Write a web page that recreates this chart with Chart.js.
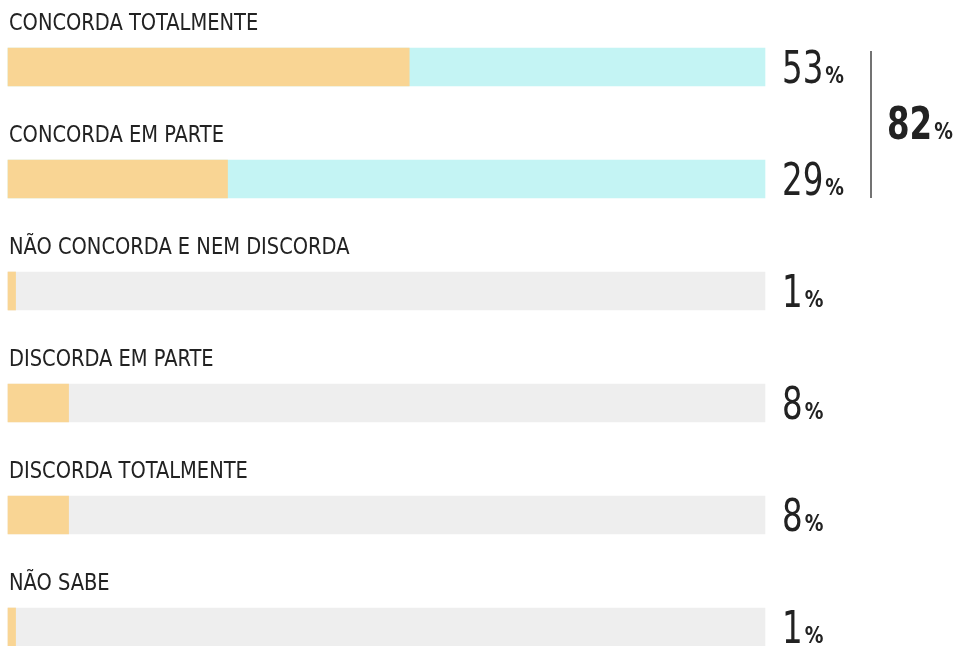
<!DOCTYPE html>
<html>
<head>
<meta charset="utf-8">
<script src="https://cdn.jsdelivr.net/npm/chart.js@4"></script>
<style>
  html, body { margin: 0; padding: 0; background: #fff; }
  #wrap { width: 973px; height: 646px; }
</style>
</head>
<body>
<div id="wrap"><canvas id="myChart" width="973" height="646"></canvas></div>
<script>
const categorias = ['CONCORDA TOTALMENTE', 'CONCORDA EM PARTE', 'NÃO CONCORDA E NEM DISCORDA',
    'DISCORDA EM PARTE', 'DISCORDA TOTALMENTE', 'NÃO SABE'];
const valores = [53, 29, 1, 8, 8, 1];
const maximo = [100, 100, 100, 100, 100, 100];
const destacados = [0, 1]; // barras somadas no total (82%)

const FONTE = "'Liberation Sans Narrow', 'DejaVu Sans Condensed', 'Roboto', sans-serif";
const laranja = '#f9d594';
const ciano = '#c4f4f4';
const cinza = '#eeeeee';

// texto um pouco mais estreito, para lembrar a fonte condensada do original
function textoEstreito(ctx, txt, x, y, escala) {
    ctx.save();
    ctx.translate(x, y);
    ctx.scale(escala, 1);
    ctx.fillText(txt, 0, 0);
    ctx.restore();
    return ctx.measureText(txt).width * escala;
}

const rotulos = {
    id: 'rotulos',
    afterDatasetsDraw(chart) {
        const ctx = chart.ctx;
        const y = chart.scales.y;
        const area = chart.chartArea;
        ctx.save();
        ctx.fillStyle = '#222';
        ctx.textBaseline = 'alphabetic';
        ctx.textAlign = 'left';
        categorias.forEach((cat, i) => {
            const cy = y.getPixelForValue(i);
            // titulo acima da barra
            ctx.font = '300 23px ' + FONTE;
            textoEstreito(ctx, cat, 9, cy - 37, 0.94);
            // valor
            ctx.font = '300 44px ' + FONTE;
            const w = textoEstreito(ctx, String(valores[i]), area.right + 17, cy + 16, 0.82);
            ctx.font = 'bold 23px ' + FONTE;
            textoEstreito(ctx, '%', area.right + 17 + w + 2, cy + 16, 0.9);
        });
        // chave com total
        const y0 = y.getPixelForValue(destacados[0]);
        const y1 = y.getPixelForValue(destacados[destacados.length - 1]);
        ctx.strokeStyle = '#444';
        ctx.lineWidth = 1.5;
        ctx.beginPath();
        ctx.moveTo(871, y0 - 16);
        ctx.lineTo(871, y1 + 19);
        ctx.stroke();
        const total = destacados.reduce((s, i) => s + valores[i], 0);
        ctx.font = 'bold 44px ' + FONTE;
        const tx = 887;
        const ty = (y0 + y1) / 2 + 16;
        const tw = textoEstreito(ctx, String(total), tx, ty, 0.82);
        ctx.font = 'bold 23px ' + FONTE;
        textoEstreito(ctx, '%', tx + tw + 2, ty, 0.9);
        ctx.restore();
    }
};

const ctx = document.getElementById('myChart').getContext('2d');
const myChart = new Chart(ctx, {
    type: 'bar',
    data: {
        labels: categorias,
        datasets: [{
            data: valores,
            backgroundColor: laranja,
            barThickness: 38,
            grouped: false,
            clip: false
        }, {
            data: maximo,
            backgroundColor: categorias.map((c, i) => destacados.includes(i) ? ciano : cinza),
            barThickness: 38,
            grouped: false,
            clip: false
        }]
    },
    options: {
        indexAxis: 'y',
        responsive: false,
        animation: false,
        layout: { padding: { left: 8, right: 208, top: 67, bottom: 19 } },
        scales: {
            x: { min: 0, max: 100, display: false },
            y: { display: false, offset: false }
        },
        plugins: { legend: { display: false }, tooltip: { enabled: false } }
    },
    plugins: [rotulos]
});
</script>
</body>
</html>
